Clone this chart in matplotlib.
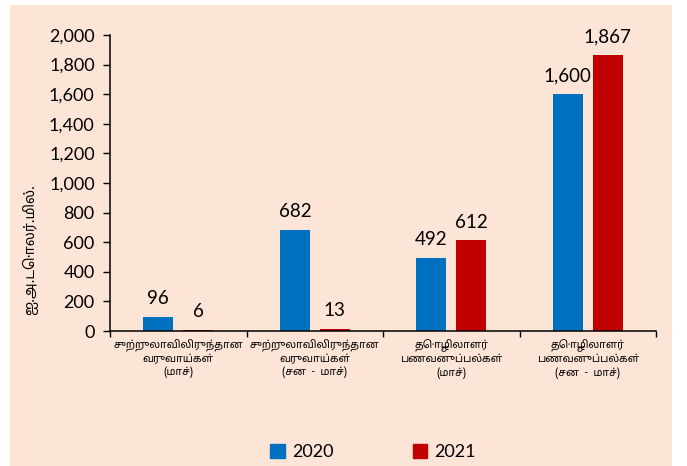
import matplotlib
import matplotlib.pyplot as plt
import numpy as np
from matplotlib.patches import Rectangle

matplotlib.use("Agg")

categories = [
    "சுற்றுலாவிலிருந்தான\nவருவாய்கள்\n(மாச்)",
    "சுற்றுலாவிலிருந்தான\nவருவாய்கள்\n(சன  -  மாச்)",
    "தொழிலாளர்\nபணவனுப்பல்கள்\n(மாச்)",
    "தொழிலாளர்\nபணவனுப்பல்கள்\n(சன  -  மாச்)",
]
years = ["2020", "2021"]
values_2020 = [96, 682, 492, 1600]
values_2021 = [6, 13, 612, 1867]
y_label = "ஐ.அ.டொலர்.மில்."

colors = ["#0070C0", "#C00000"]
bg = "#FCE4D6"
num_font = ["Lato", "DejaVu Sans"]
tamil_font = ["Noto Sans Tamil", "DejaVu Sans"]

fig = plt.figure(figsize=(6.87, 4.66), dpi=100)
fig.patch.set_facecolor("white")
fig.patches.append(Rectangle((10 / 687, 0), 662 / 687, 461 / 466,
                             transform=fig.transFigure, facecolor=bg,
                             edgecolor="none", zorder=-10))

ax = fig.add_axes([110 / 687, 135 / 466, 546 / 687, 296 / 466])
ax.set_facecolor("none")

x = np.arange(len(categories))
w = 0.22
off = 0.146
for vals, c, sign in [(values_2020, colors[0], -1), (values_2021, colors[1], 1)]:
    bars = ax.bar(x + sign * off, vals, width=w, color=c, zorder=2)
    for b, v in zip(bars, vals):
        ax.annotate(f"{v:,}", (b.get_x() + b.get_width() / 2, b.get_height()),
                    xytext=(0, 7), textcoords="offset points",
                    ha="center", va="bottom", fontsize=13.5, family=num_font)

ax.set_xlim(-0.5, len(categories) - 0.5)
ax.set_ylim(0, 2000)
ax.set_yticks(np.arange(0, 2001, 200))
ax.set_yticklabels([f"{v:,}" for v in range(0, 2001, 200)], family=num_font, fontsize=13)
ax.tick_params(axis="y", direction="out", length=5, width=1, pad=6)

ax.set_xticks(x)
ax.set_xticklabels(categories, family=tamil_font, fontsize=7.6, linespacing=1.25)
ax.tick_params(axis="x", length=0, pad=6)
ax.set_xticks(np.arange(-0.5, len(categories)), minor=True)
ax.tick_params(axis="x", which="minor", direction="out", length=4, width=1)

for s in ["top", "right"]:
    ax.spines[s].set_visible(False)
for s in ["left", "bottom"]:
    ax.spines[s].set_linewidth(1.1)

fig.text(30 / 687, 1 - 250 / 466, y_label, rotation=90, ha="center", va="center",
         family=tamil_font, fontsize=10)

handles = [Rectangle((0, 0), 1, 1, color=c) for c in colors]
fig.legend(handles, years, loc="center", bbox_to_anchor=(373 / 687, 14 / 466),
           ncol=2, frameon=False, handlelength=0.8, handleheight=0.8,
           handletextpad=0.4, columnspacing=4.4, prop={"family": num_font, "size": 13})

fig.savefig("out.png", dpi=100, facecolor=fig.get_facecolor())
